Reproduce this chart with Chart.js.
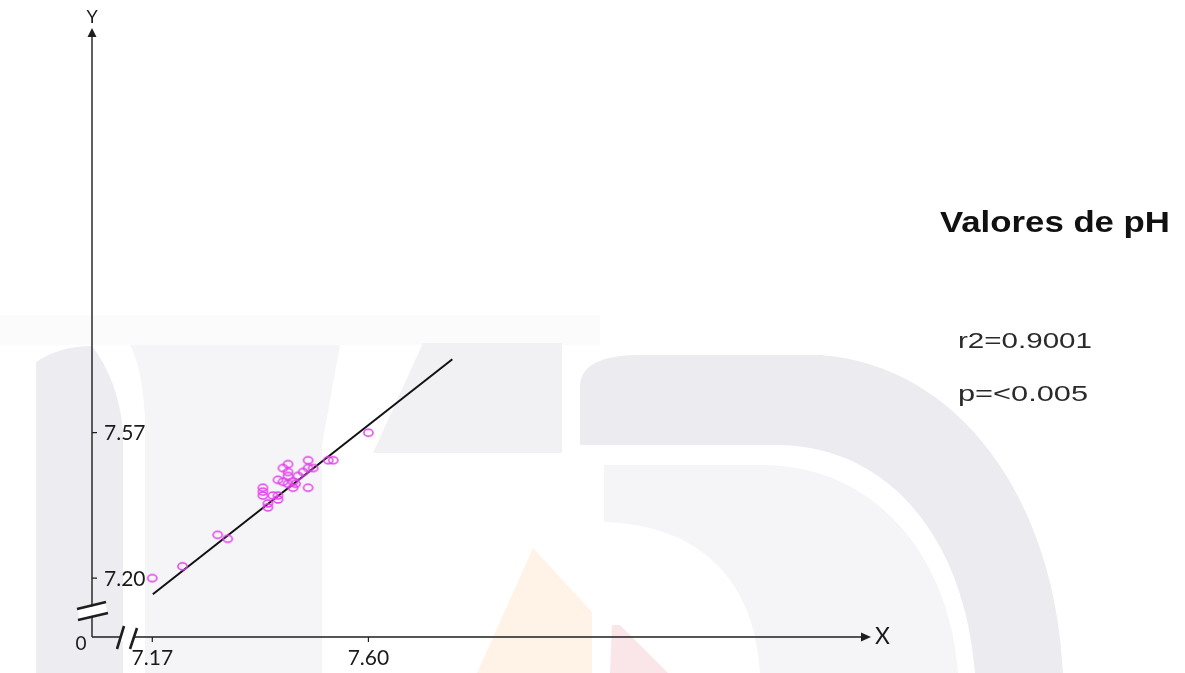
<!DOCTYPE html>
<html>
<head>
<meta charset="utf-8">
<title>Valores de pH</title>
<script src="https://cdn.jsdelivr.net/npm/chart.js@4.4.1/dist/chart.umd.min.js"></script>
<style>
  html, body { margin: 0; padding: 0; background: #ffffff; }
  #wrap { position: relative; width: 1185px; height: 673px; overflow: hidden; }
  #chart { position: absolute; left: 0; top: 0; }
  .lbl { position: absolute; white-space: nowrap; line-height: 1; transform-origin: 0 0; }
  #title { left: 940px; top: 205px; font: bold 30px "Liberation Sans", Arial, sans-serif; color: #111; }
  #r2 { left: 958px; top: 328px; font: 22px "Liberation Sans", Arial, sans-serif; color: #2a2a2a; }
  #pv { left: 958px; top: 381px; font: 22px "Liberation Sans", Arial, sans-serif; color: #2a2a2a; }
</style>
</head>
<body>
<div id="wrap">
  <canvas id="chart" width="1185" height="673"></canvas>
  <div class="lbl" id="title" data-w="230">Valores de pH</div>
  <div class="lbl" id="r2" data-w="134">r2=0.9001</div>
  <div class="lbl" id="pv" data-w="130">p=&lt;0.005</div>
</div>
<script>
// pH pairs (x: first measurement, y: second measurement)
const phX = [7.17, 7.23, 7.30, 7.32, 7.39, 7.39, 7.39, 7.40, 7.40, 7.41, 7.42,
             7.42, 7.42, 7.43, 7.44, 7.44, 7.44, 7.43, 7.45, 7.455, 7.44, 7.45,
             7.46, 7.47, 7.48, 7.48, 7.49, 7.48, 7.52, 7.53, 7.60];
const phY = [7.20, 7.23, 7.31, 7.30, 7.43, 7.42, 7.41, 7.39, 7.38, 7.41, 7.41,
             7.40, 7.45, 7.48, 7.49, 7.47, 7.46, 7.445, 7.445, 7.44, 7.44, 7.43,
             7.46, 7.47, 7.50, 7.48, 7.48, 7.43, 7.50, 7.50, 7.57];

// Ends of the fitted regression line
const fitX = [7.171, 7.767];
const fitY = [7.159, 7.757];

// Axis ticks and range (the axes are broken between 0 and the first tick)
const xTicks = [7.17, 7.60];
const yTicks = [7.20, 7.57];
const xTickLabels = ['7.17', '7.60'];
const yTickLabels = ['7.20', '7.57'];
const axisRange = [7.05, 8.60];

const scatterPoints = phX.map((x, i) => ({ x: x, y: phY[i] }));
const fitPoints = fitX.map((x, i) => ({ x: x, y: fitY[i] }));

// Hollow, slightly flattened ring used as the point marker
function ringMarker() {
  const c = document.createElement('canvas');
  c.width = 13; c.height = 11;
  const g = c.getContext('2d');
  g.strokeStyle = '#e03ee8';
  g.lineWidth = 1.5;
  g.beginPath();
  g.ellipse(6.5, 5.5, 4.6, 3.5, 0, 0, Math.PI * 2);
  g.stroke();
  return c;
}

// Faint institutional watermark behind the plot
const watermark = {
  id: 'watermark',
  beforeDraw(chart) {
    const ctx = chart.ctx;
    ctx.save();
    ctx.fillStyle = '#fbfbfc';
    ctx.fillRect(0, 315, 600, 30);

    ctx.fillStyle = '#ededf1';
    ctx.beginPath();
    ctx.moveTo(36, 673); ctx.lineTo(36, 362);
    ctx.quadraticCurveTo(60, 346, 92, 346);
    ctx.quadraticCurveTo(118, 380, 123, 430);
    ctx.lineTo(123, 673); ctx.closePath(); ctx.fill();

    ctx.fillStyle = '#f5f5f8';
    ctx.beginPath();
    ctx.moveTo(145, 673); ctx.lineTo(145, 420);
    ctx.quadraticCurveTo(143, 370, 130, 345);
    ctx.lineTo(340, 345);
    ctx.lineTo(322, 445);
    ctx.lineTo(322, 673); ctx.closePath(); ctx.fill();

    ctx.fillStyle = '#f1f1f4';
    ctx.beginPath();
    ctx.moveTo(423, 343); ctx.lineTo(562, 343); ctx.lineTo(562, 453); ctx.lineTo(373, 453);
    ctx.closePath(); ctx.fill();

    ctx.fillStyle = '#ececf0';
    ctx.beginPath();
    ctx.moveTo(580, 445); ctx.lineTo(580, 385);
    ctx.quadraticCurveTo(582, 355, 640, 355);
    ctx.lineTo(820, 355);
    ctx.bezierCurveTo(960, 365, 1055, 500, 1063, 673);
    ctx.lineTo(975, 673);
    ctx.bezierCurveTo(965, 540, 890, 447, 780, 445);
    ctx.closePath(); ctx.fill();

    ctx.fillStyle = '#f5f5f8';
    ctx.beginPath();
    ctx.moveTo(604, 465); ctx.lineTo(770, 465);
    ctx.bezierCurveTo(880, 470, 950, 560, 958, 673);
    ctx.lineTo(760, 673);
    ctx.bezierCurveTo(755, 580, 700, 525, 604, 522);
    ctx.closePath(); ctx.fill();

    ctx.fillStyle = '#fff3e8';
    ctx.beginPath();
    ctx.moveTo(533, 548); ctx.lineTo(592, 612); ctx.lineTo(592, 673); ctx.lineTo(477, 673);
    ctx.closePath(); ctx.fill();

    ctx.fillStyle = '#fae5e9';
    ctx.beginPath();
    ctx.moveTo(612, 625); ctx.lineTo(620, 625); ctx.lineTo(668, 673); ctx.lineTo(610, 673);
    ctx.closePath(); ctx.fill();
    ctx.restore();
  }
};

// Arrowed axes, broken-axis marks, ticks and tick labels
const brokenAxes = {
  id: 'brokenAxes',
  beforeDatasetsDraw(chart) {
    const { ctx, chartArea: a, scales } = chart;
    const L = a.left, B = a.bottom;
    const ink = '#1e1e1e';
    ctx.save();
    ctx.strokeStyle = ink;
    ctx.fillStyle = ink;
    ctx.lineWidth = 1.4;

    // axis lines
    ctx.beginPath();
    ctx.moveTo(L, B); ctx.lineTo(L, a.top + 8);
    ctx.moveTo(L, B); ctx.lineTo(a.right - 9, B);
    ctx.stroke();
    // arrow heads
    ctx.beginPath();
    ctx.moveTo(L, a.top); ctx.lineTo(L - 4.5, a.top + 9); ctx.lineTo(L + 4.5, a.top + 9);
    ctx.closePath(); ctx.fill();
    ctx.beginPath();
    ctx.moveTo(a.right, B); ctx.lineTo(a.right - 10, B - 4.5); ctx.lineTo(a.right - 10, B + 4.5);
    ctx.closePath(); ctx.fill();

    // break on the vertical axis
    ctx.fillStyle = '#ffffff';
    ctx.beginPath();
    ctx.moveTo(L - 14, B - 27); ctx.lineTo(L + 14, B - 34);
    ctx.lineTo(L + 15, B - 24); ctx.lineTo(L - 13, B - 17);
    ctx.closePath(); ctx.fill();
    ctx.lineWidth = 2.6;
    ctx.beginPath();
    ctx.moveTo(L - 15, B - 28); ctx.lineTo(L + 14, B - 35);
    ctx.moveTo(L - 14, B - 17); ctx.lineTo(L + 16, B - 24);
    ctx.stroke();

    // break on the horizontal axis
    ctx.beginPath();
    ctx.moveTo(L + 27, B + 4); ctx.lineTo(L + 31, B - 7);
    ctx.lineTo(L + 43, B - 6); ctx.lineTo(L + 40, B + 4);
    ctx.closePath(); ctx.fill();
    ctx.beginPath();
    ctx.moveTo(L + 25, B + 12); ctx.lineTo(L + 32, B - 11);
    ctx.moveTo(L + 38, B + 12); ctx.lineTo(L + 45, B - 9);
    ctx.stroke();

    // ticks
    ctx.lineWidth = 1.2;
    ctx.beginPath();
    yTicks.forEach(v => {
      const y = scales.y.getPixelForValue(v);
      ctx.moveTo(L, y); ctx.lineTo(L + 5, y);
    });
    xTicks.forEach(v => {
      const x = scales.x.getPixelForValue(v);
      ctx.moveTo(x, B); ctx.lineTo(x, B + 5);
    });
    ctx.stroke();

    // tick labels
    ctx.fillStyle = '#1a1a1a';
    ctx.font = '21px Lato, "Open Sans", sans-serif';
    ctx.textBaseline = 'middle';
    ctx.textAlign = 'left';
    yTicks.forEach((v, i) => {
      ctx.fillText(yTickLabels[i], L + 12, scales.y.getPixelForValue(v) + 1);
    });
    ctx.textAlign = 'center';
    xTicks.forEach((v, i) => {
      ctx.fillText(xTickLabels[i], scales.x.getPixelForValue(v), B + 21);
    });

    // origin and axis names
    ctx.font = '19px Lato, "Open Sans", sans-serif';
    ctx.fillText('0', L - 11, B + 7);
    ctx.font = '18px Lato, "Open Sans", sans-serif';
    ctx.fillText('Y', L, a.top - 11);
    ctx.font = '23px Lato, "Open Sans", sans-serif';
    ctx.textAlign = 'left';
    ctx.fillText('X', a.right + 4, B);
    ctx.restore();
  }
};

new Chart(document.getElementById('chart'), {
  type: 'scatter',
  data: {
    datasets: [
      {
        label: 'pH',
        data: scatterPoints,
        pointStyle: ringMarker(),
        pointRadius: 5,
        pointHoverRadius: 5,
        clip: false
      },
      {
        label: 'Regresión',
        type: 'line',
        data: fitPoints,
        showLine: true,
        borderColor: '#111111',
        borderWidth: 2,
        pointRadius: 0,
        fill: false,
        clip: false
      }
    ]
  },
  options: {
    responsive: false,
    animation: false,
    events: [],
    layout: { padding: { left: 92, top: 28, right: 314, bottom: 36 } },
    plugins: { legend: { display: false }, tooltip: { enabled: false }, title: { display: false } },
    scales: {
      x: { type: 'linear', display: false, min: axisRange[0], max: axisRange[1] },
      y: { type: 'linear', display: false, min: axisRange[0], max: axisRange[1] }
    }
  },
  plugins: [watermark, brokenAxes]
});

// stretch the side labels to their set widths
document.querySelectorAll('.lbl').forEach(el => {
  const w = el.getBoundingClientRect().width;
  const target = parseFloat(el.dataset.w);
  el.style.transform = 'scaleX(' + (target / w).toFixed(3) + ')';
});
</script>
</body>
</html>
